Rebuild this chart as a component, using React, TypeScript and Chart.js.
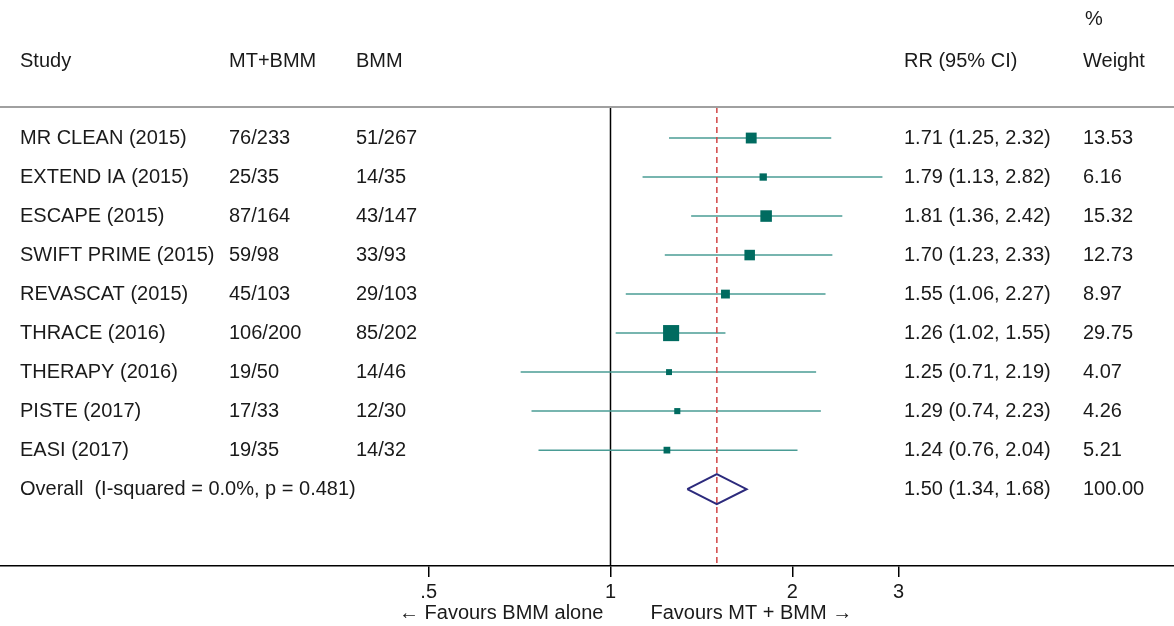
import React, { useEffect, useRef } from "react";
import { Chart, registerables } from "chart.js";

Chart.register(...registerables);

const STUDIES = [
  "MR CLEAN (2015)",
  "EXTEND IA (2015)",
  "ESCAPE (2015)",
  "SWIFT PRIME (2015)",
  "REVASCAT (2015)",
  "THRACE (2016)",
  "THERAPY (2016)",
  "PISTE (2017)",
  "EASI (2017)",
];
const MT_BMM = ["76/233", "25/35", "87/164", "59/98", "45/103", "106/200", "19/50", "17/33", "19/35"];
const BMM = ["51/267", "14/35", "43/147", "33/93", "29/103", "85/202", "14/46", "12/30", "14/32"];
const RR = [1.71, 1.79, 1.81, 1.7, 1.55, 1.26, 1.25, 1.29, 1.24];
const LOWER = [1.25, 1.13, 1.36, 1.23, 1.06, 1.02, 0.71, 0.74, 0.76];
const UPPER = [2.32, 2.82, 2.42, 2.33, 2.27, 1.55, 2.19, 2.23, 2.04];
const WEIGHT = [13.53, 6.16, 15.32, 12.73, 8.97, 29.75, 4.07, 4.26, 5.21];
const OVERALL_LABEL = "Overall  (I-squared = 0.0%, p = 0.481)";
const OVERALL_RR = 1.5;
const OVERALL_LOWER = 1.34;
const OVERALL_UPPER = 1.68;
const OVERALL_WEIGHT = 100.0;
const TICKS = [0.5, 1, 2, 3];
const TICK_LABELS = [".5", "1", "2", "3"];

const fmt = (v: number) => v.toFixed(2);

const Y_MIN = -3.538;
const Y_MAX = 10.97;
const HEADER_Y = -1.974;
const PCT_Y = -3.026;
const TOP_LINE_Y = -0.795;
const X_MIN = 0.09755;
const X_MAX = 8.57;

const FAMILY = '"Liberation Sans", Arial, sans-serif';
const FONT = `20px ${FAMILY}`;
const TEXT = "#1a1a1a";

export default function App() {
  const ref = useRef<HTMLCanvasElement | null>(null);

  useEffect(() => {
    if (!ref.current) return;
    const nOverall = STUDIES.length;

    const ciSets = STUDIES.map((_, i) => ({
      type: "line" as const,
      data: [
        { x: LOWER[i], y: i },
        { x: UPPER[i], y: i },
      ],
      borderColor: "#4a9c95",
      borderWidth: 1.5,
      pointRadius: 0,
      order: 3,
    }));

    const textPlugin = {
      id: "forestText",
      afterDraw(chart: any) {
        const ctx = chart.ctx;
        const ys = chart.scales.y;
        const area = chart.chartArea;
        ctx.save();
        // top separator
        ctx.strokeStyle = "#a0a0a0";
        ctx.lineWidth = 2;
        const ty = ys.getPixelForValue(TOP_LINE_Y);
        ctx.beginPath();
        ctx.moveTo(area.left, ty);
        ctx.lineTo(area.right, ty);
        ctx.stroke();

        ctx.fillStyle = TEXT;
        ctx.font = FONT;
        ctx.textBaseline = "middle";
        ctx.textAlign = "left";
        const hy = ys.getPixelForValue(HEADER_Y);
        ctx.fillText("Study", 20, hy);
        ctx.fillText("MT+BMM", 229, hy);
        ctx.fillText("BMM", 356, hy);
        ctx.fillText("RR (95% CI)", 904, hy);
        ctx.fillText("Weight", 1083, hy);
        ctx.fillText("%", 1085, ys.getPixelForValue(PCT_Y));

        STUDIES.forEach((s, i) => {
          const y = ys.getPixelForValue(i);
          ctx.fillText(s, 20, y);
          ctx.fillText(MT_BMM[i], 229, y);
          ctx.fillText(BMM[i], 356, y);
          ctx.fillText(`${fmt(RR[i])} (${fmt(LOWER[i])}, ${fmt(UPPER[i])})`, 904, y);
          ctx.fillText(fmt(WEIGHT[i]), 1083, y);
        });
        const oy = ys.getPixelForValue(nOverall);
        ctx.fillText(OVERALL_LABEL, 20, oy);
        ctx.fillText(`${fmt(OVERALL_RR)} (${fmt(OVERALL_LOWER)}, ${fmt(OVERALL_UPPER)})`, 904, oy);
        ctx.fillText(fmt(OVERALL_WEIGHT), 1083, oy);

        // favours labels
        const xs = chart.scales.x;
        const x1 = xs.getPixelForValue(1);
        const fy = 613;
        ctx.textAlign = "right";
        ctx.fillText("\u2190 Favours BMM alone", x1 - 7, fy);
        ctx.textAlign = "left";
        ctx.fillText("Favours MT + BMM \u2192", x1 + 40, fy);
        ctx.restore();
      },
    };

    const chart = new Chart(ref.current, {
      type: "scatter",
      data: {
        datasets: [
          ...ciSets,
          {
            type: "scatter" as const,
            data: RR.map((r, i) => ({ x: r, y: i })),
            backgroundColor: "#006b60",
            borderWidth: 0,
            pointStyle: "rect",
            pointRadius: WEIGHT.map((w) => (2.95 * Math.sqrt(w)) / Math.SQRT2),
            order: 1,
          } as any,
          {
            type: "line" as const,
            data: [
              { x: OVERALL_LOWER, y: nOverall },
              { x: OVERALL_RR, y: nOverall - 0.385 },
              { x: OVERALL_UPPER, y: nOverall },
              { x: OVERALL_RR, y: nOverall + 0.385 },
              { x: OVERALL_LOWER, y: nOverall },
            ],
            borderColor: "#2c2a7c",
            borderWidth: 2,
            pointRadius: 0,
            fill: false,
            order: 1,
          },
          {
            type: "line" as const,
            data: [
              { x: 1, y: TOP_LINE_Y },
              { x: 1, y: Y_MAX },
            ],
            borderColor: "#000000",
            borderWidth: 1.5,
            pointRadius: 0,
            order: 4,
          },
          {
            type: "line" as const,
            data: [
              { x: OVERALL_RR, y: TOP_LINE_Y },
              { x: OVERALL_RR, y: Y_MAX },
            ],
            borderColor: "#d04545",
            borderWidth: 1.5,
            borderDash: [6, 4],
            pointRadius: 0,
            order: 2,
          },
        ] as any,
      },
      options: {
        animation: false,
        responsive: false,
        layout: { padding: 0, autoPadding: false },
        plugins: { legend: { display: false }, tooltip: { enabled: false } },
        scales: {
          x: {
            type: "logarithmic",
            min: X_MIN,
            max: X_MAX,
            position: "bottom",
            afterBuildTicks: (scale: any) => {
              scale.ticks = TICKS.map((v) => ({ value: v }));
            },
            afterFit: (scale: any) => {
              scale.height = 60;
            },
            grid: {
              drawOnChartArea: false,
              drawTicks: true,
              tickLength: 11,
              color: "#000",
              lineWidth: 1.5,
            },
            border: { display: true, color: "#000", width: 1.5 },
            ticks: {
              autoSkip: false,
              maxRotation: 0,
              padding: 3,
              color: TEXT,
              font: { family: FAMILY, size: 20 },
              callback: (v: any) => {
                const idx = TICKS.indexOf(Number(v));
                return idx >= 0 ? TICK_LABELS[idx] : "";
              },
            },
          },
          y: {
            type: "linear",
            min: Y_MIN,
            max: Y_MAX,
            reverse: true,
            display: false,
          },
        },
      } as any,
      plugins: [textPlugin],
    });
    return () => chart.destroy();
  }, []);

  return (
    <div style={{ position: "absolute", left: 0, top: 0, width: 1174, height: 626, background: "#fff" }}>
      <canvas ref={ref} width={1174} height={626} style={{ display: "block" }} />
    </div>
  );
}
